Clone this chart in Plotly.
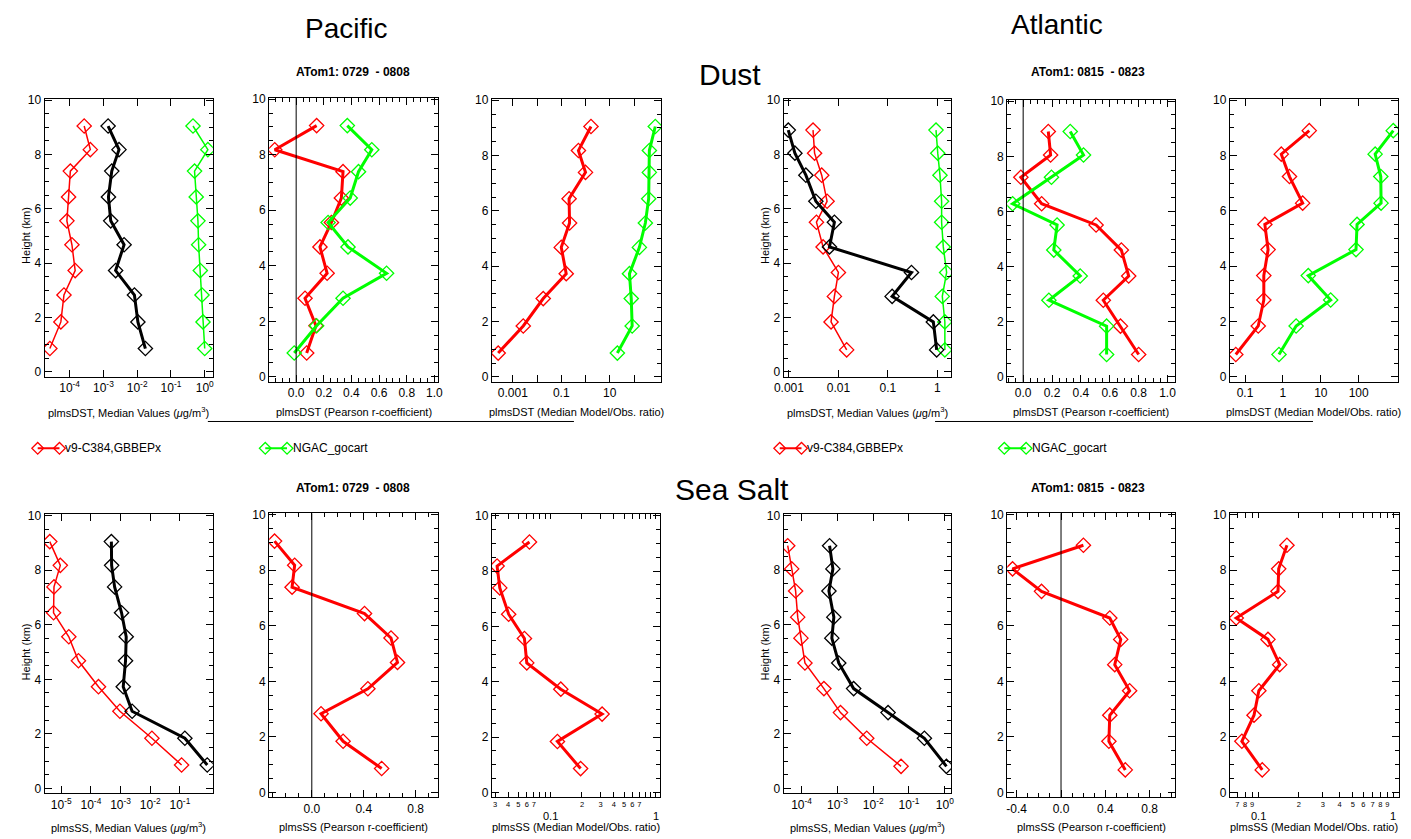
import math
import plotly.graph_objects as go

W, H = 1411, 839
RED, GREEN, BLACK = '#ff0000', '#00ff00', '#000000'
FONT = 'Arial, Liberation Sans, Helvetica, sans-serif'

# ---- vertical bins (km), bottom to top ----
h_pac = [0.86, 1.84, 2.83, 3.73, 4.68, 5.56, 6.44, 7.39, 8.18, 9.05]
h_atl = [0.81, 1.84, 2.78, 3.66, 4.60, 5.51, 6.28, 7.24, 8.05, 8.90]

# ---- Dust, Pacific (ATom1 0729-0808) ----
dst_pac_obs = [1.75e-2, 1.05e-2, 8.3e-3, 2.3e-3, 4.1e-3, 1.65e-3, 1.41e-3, 1.77e-3, 2.9e-3, 1.38e-3]
dst_pac_v9 = [2.6e-5, 5.5e-5, 6.8e-5, 1.46e-4, 1.17e-4, 8.3e-5, 9.3e-5, 1.05e-4, 4.1e-4, 2.7e-4]
dst_pac_ngac = [1.0, 0.89, 0.83, 0.74, 0.66, 0.63, 0.56, 0.50, 1.24, 0.45]
r_dst_pac_v9 = [0.076, 0.143, 0.064, 0.224, 0.172, 0.255, 0.327, 0.339, -0.155, 0.148]
r_dst_pac_ngac = [-0.014, 0.148, 0.339, 0.654, 0.375, 0.231, 0.391, 0.451, 0.547, 0.370]
ratio_dst_pac_v9 = [2.5e-4, 2.7e-3, 0.018, 0.16, 0.10, 0.22, 0.21, 1.0, 0.51, 1.68]
ratio_dst_pac_ngac = [20.6, 84, 77, 65, 167, 294, 403, 430, 430, 755]

# ---- Dust, Atlantic (ATom1 0815-0823) ----
dst_atl_obs = [0.97, 0.83, 0.122, 0.30, 6.6e-3, 8.3e-3, 3.5e-3, 2.2e-3, 1.32e-3, 9.7e-4]
dst_atl_v9 = [1.47e-2, 7.1e-3, 8.3e-3, 1.0e-2, 4.9e-3, 3.6e-3, 5.9e-3, 4.6e-3, 3.3e-3, 3.07e-3]
dst_atl_ngac = [1.42, 1.42, 1.26, 1.54, 1.32, 1.22, 1.22, 1.13, 1.02, 0.94]
r_dst_atl_v9 = [0.80, 0.674, 0.555, 0.731, 0.68, 0.505, 0.128, -0.016, 0.19, 0.174]
r_dst_atl_ngac = [0.578, 0.578, 0.178, 0.395, 0.212, 0.235, -0.073, 0.196, 0.418, 0.326]
ratio_dst_atl_v9 = [0.057, 0.223, 0.313, 0.313, 0.406, 0.333, 3.32, 1.49, 0.905, 4.96]
ratio_dst_atl_ngac = [0.787, 2.23, 18.2, 4.67, 85, 90.5, 390, 383, 272, 818]

# ---- Sea salt, Pacific ----
ss_pac_obs = [0.835, 0.147, 2.45e-3, 1.23e-3, 1.47e-3, 1.55e-3, 1.08e-3, 6.3e-4, 5.0e-4, 4.9e-4]
ss_pac_v9 = [0.114, 1.14e-2, 9.5e-4, 1.8e-4, 3.8e-5, 1.8e-5, 5.5e-6, 5.7e-6, 9.3e-6, 4.1e-6]
r_ss_pac_v9 = [0.538, 0.241, 0.071, 0.432, 0.66, 0.61, 0.406, -0.152, -0.132, -0.287]
ratio_ss_pac_v9 = [0.194, 0.117, 0.31, 0.126, 0.060, 0.057, 0.0404, 0.0333, 0.0314, 0.0636]

# ---- Sea salt, Atlantic ----
ss_atl_obs = [1.11, 0.269, 2.6e-2, 2.84e-3, 1.09e-3, 7.0e-4, 7.96e-4, 5.8e-4, 7.5e-4, 6.05e-4]
ss_atl_v9 = [0.060, 6.6e-3, 1.22e-3, 4.2e-4, 1.24e-4, 9.6e-5, 7.8e-5, 6.8e-5, 5.3e-5, 4.1e-5]
r_ss_atl_v9 = [0.580, 0.432, 0.44, 0.619, 0.485, 0.539, 0.44, -0.176, -0.4375, 0.202]
ratio_ss_atl_v9 = [0.107, 0.0756, 0.093, 0.101, 0.144, 0.118, 0.0687, 0.14, 0.1416, 0.163]

# ---- tick labels ----
pow_vals = [1e-5, 1e-4, 1e-3, 1e-2, 1e-1, 1.0]
pow_text = ['10<sup>-5</sup>', '10<sup>-4</sup>', '10<sup>-3</sup>', '10<sup>-2</sup>',
            '10<sup>-1</sup>', '10<sup>0</sup>']
r_vals_fine = [0.0, 0.2, 0.4, 0.6, 0.8, 1.0]
r_text_fine = ['0.0', '0.2', '0.4', '0.6', '0.8', '1.0']
r_vals_coarse = [-0.4, 0.0, 0.4, 0.8]
r_text_coarse = ['-0.4', '0.0', '0.4', '0.8']
y_vals = [0, 2, 4, 6, 8, 10]
y_text = ['0', '2', '4', '6', '8', '10']
ratio9_vals = [0.03, 0.04, 0.05, 0.06, 0.07, 0.2, 0.3, 0.4, 0.5, 0.6, 0.7]
ratio9_text = ['3', '4', '5', '6', '7', '2', '3', '4', '5', '6', '7']
ratio12_vals = [0.07, 0.08, 0.09, 0.2, 0.3, 0.4, 0.5, 0.6, 0.7, 0.8, 0.9]
ratio12_text = ['7', '8', '9', '2', '3', '4', '5', '6', '7', '8', '9']
ratio_major = [0.1, 1.0]
ratio_major_text = ['0.1', '1']

YR = [-0.18, 10.05]


def px(p):
    return p / W


def py(p):
    return 1 - p / H


# plot boxes in pixels: left, right, pixel row of y=10, pixel row of y=0
boxes = {
    1: (35, 205, 96, 370), 2: (262, 433, 95, 375), 3: (487, 658, 96, 375),
    4: (782, 951, 96, 370), 5: (1008, 1178, 97, 375), 6: (1233, 1403, 96, 375),
    7: (35, 205, 515, 790), 8: (262, 433, 514, 794), 9: (487, 657, 515, 794),
    10: (782, 951, 515, 790), 11: (1008, 1178, 514, 794), 12: (1233, 1404, 514, 794),
}

fig = go.Figure()
layout = {}

axis_common = dict(showline=True, linecolor='black', linewidth=1.2, mirror='allticks',
                   ticks='inside', ticklen=7, tickwidth=1, tickcolor='black',
                   showgrid=False, zeroline=False, tickangle=0,
                   tickfont=dict(family=FONT, size=12, color='black'))


def minor_ticks(**kw):
    d = dict(ticks='inside', ticklen=4, tickcolor='black', showgrid=False)
    d.update(kw)
    return d


def set_axes(i, xcfg):
    xl, xr, y10, y0 = boxes[i]
    per = (y0 - y10) / 10.0
    top = y10 - (YR[1] - 10) * per
    bot = y0 + (0 - YR[0]) * per
    k = '' if i == 1 else str(i)
    xa = dict(axis_common)
    xa.update(domain=[px(xl), px(xr)], anchor='y' + k)
    xa.update(xcfg)
    ya = dict(axis_common)
    ya.update(domain=[py(bot), py(top)], anchor='x' + k, range=YR,
              tickvals=y_vals, ticktext=y_text,
              minor=minor_ticks(dtick=0.5, tick0=0))
    layout['xaxis' + k] = xa
    layout['yaxis' + k] = ya


def add_profile(i, xs, hs, color, width, msize=11):
    k = '' if i == 1 else str(i)
    fig.add_trace(go.Scatter(
        x=xs, y=hs, mode='lines+markers', xaxis='x' + k, yaxis='y' + k,
        line=dict(color=color, width=width),
        marker=dict(symbol='diamond-open', size=msize, color=color, line=dict(width=1.3, color=color)),
        showlegend=False, hoverinfo='skip'))


def log_cfg(lo, hi, vals, text, minor_vals=None, minor_len=4):
    c = dict(type='log', range=[lo, hi], tickvals=vals, ticktext=text)
    if minor_vals:
        c['minor'] = minor_ticks(tickmode='array', tickvals=minor_vals, ticklen=minor_len)
    return c


def lin_cfg(lo, hi, vals, text, mdt):
    return dict(type='linear', range=[lo, hi], tickvals=vals, ticktext=text,
                minor=minor_ticks(dtick=mdt, tick0=0))


# ---- axes ----
set_axes(1, log_cfg(-4.74, 0.24, pow_vals[1:], pow_text[1:]))
set_axes(2, lin_cfg(-0.195, 1.029, r_vals_fine, r_text_fine, 0.05))
set_axes(3, log_cfg(-3.865, 3.114, [1e-3, 1e-1, 10], ['0.001', '0.1', '10'],
                    minor_vals=[1e-2, 1.0, 100.0], minor_len=7))
set_axes(4, log_cfg(-3.106, 0.274, [1e-3, 1e-2, 1e-1, 1], ['0.001', '0.01', '0.1', '1']))
set_axes(5, lin_cfg(-0.11, 1.055, r_vals_fine, r_text_fine, 0.05))
set_axes(6, log_cfg(-1.4, 3.04, [0.1, 1, 10, 100], ['0.1', '1', '10', '100']))
set_axes(7, log_cfg(-5.56, 0.11, pow_vals[:5], pow_text[:5]))
set_axes(8, lin_cfg(-0.328, 0.975, r_vals_coarse[1:], r_text_coarse[1:], 0.1))
set_axes(9, log_cfg(-1.553, 0.04, ratio9_vals, ratio9_text,
                    minor_vals=[0.08, 0.09, 0.1, 0.8, 0.9, 1.0], minor_len=5))
set_axes(10, log_cfg(-4.5, 0.17, pow_vals[1:], pow_text[1:]))
set_axes(11, lin_cfg(-0.485, 1.033, r_vals_coarse, r_text_coarse, 0.1))
set_axes(12, log_cfg(-1.21, 0.042, ratio12_vals, ratio12_text,
                     minor_vals=[0.1, 1.0], minor_len=5))
for k in ('xaxis9', 'xaxis12'):
    layout[k]['tickfont'] = dict(family=FONT, size=7.5, color='black')
    layout[k]['ticklen'] = 5

# ---- profiles ----
add_profile(1, dst_pac_v9, h_pac, RED, 1.5)
add_profile(1, dst_pac_ngac, h_pac, GREEN, 1.5)
add_profile(1, dst_pac_obs, h_pac, BLACK, 3)
add_profile(2, r_dst_pac_v9, h_pac, RED, 3)
add_profile(2, r_dst_pac_ngac, h_pac, GREEN, 3)
add_profile(3, ratio_dst_pac_v9, h_pac, RED, 3)
add_profile(3, ratio_dst_pac_ngac, h_pac, GREEN, 3)

add_profile(4, dst_atl_v9, h_atl, RED, 1.5)
add_profile(4, dst_atl_ngac, h_atl, GREEN, 1.5)
add_profile(4, dst_atl_obs, h_atl, BLACK, 3)
add_profile(5, r_dst_atl_v9, h_atl, RED, 3)
add_profile(5, r_dst_atl_ngac, h_atl, GREEN, 3)
add_profile(6, ratio_dst_atl_v9, h_atl, RED, 3)
add_profile(6, ratio_dst_atl_ngac, h_atl, GREEN, 3)

add_profile(7, ss_pac_v9, h_pac, RED, 1.5)
add_profile(7, ss_pac_obs, h_pac, BLACK, 3)
add_profile(8, r_ss_pac_v9, h_pac, RED, 3)
add_profile(9, ratio_ss_pac_v9, h_pac, RED, 3)

add_profile(10, ss_atl_v9, h_atl, RED, 1.5)
add_profile(10, ss_atl_obs, h_atl, BLACK, 3)
add_profile(11, r_ss_atl_v9, h_atl, RED, 3)
add_profile(12, ratio_ss_atl_v9, h_atl, RED, 3)

# ---- reference lines: r = 0 and ratio = 1 ----
shapes = []
for i in (2, 5, 8, 11):
    shapes.append(dict(type='line', xref='x%d' % i, yref='y%d domain' % i, x0=0, x1=0, y0=0, y1=1,
                       line=dict(color='black', width=1)))
for i in (3, 6, 9, 12):
    shapes.append(dict(type='line', xref='x%d' % i, yref='y%d domain' % i,
                       x0=math.log10(1.0), x1=math.log10(1.0), y0=0, y1=1,
                       line=dict(color=RED, width=1.2)))
# separator rules under the dust row
shapes.append(dict(type='line', xref='paper', yref='paper', x0=px(200), x1=px(570),
                   y0=py(420), y1=py(420), line=dict(color='black', width=1)))
shapes.append(dict(type='line', xref='paper', yref='paper', x0=px(935), x1=px(1317),
                   y0=py(420), y1=py(420), line=dict(color='black', width=1)))

# ---- legend glyphs on a hidden strip axis ----
legend_items = [(28, 50, RED, 'v9-C384,GBBEPx'), (258, 280, GREEN, 'NGAC_gocart'),
                (778, 800, RED, 'v9-C384,GBBEPx'), (1005, 1027, GREEN, 'NGAC_gocart')]
layout['xaxis13'] = dict(domain=[0, 1], range=[0, W], visible=False, anchor='y13')
layout['yaxis13'] = dict(domain=[py(457), py(437)], range=[0, 1], visible=False, anchor='x13')
annotations = []
for x0, x1, col, name in legend_items:
    fig.add_trace(go.Scatter(x=[x0, x1], y=[0.5, 0.5], xaxis='x13', yaxis='y13', mode='lines+markers',
                             line=dict(color=col, width=2),
                             marker=dict(symbol='diamond-open', size=9, color=col, line=dict(width=1.3, color=col)),
                             showlegend=False, hoverinfo='skip'))
    annotations.append(dict(xref='paper', yref='paper', x=px(x1 + 4), y=py(447), xanchor='left',
                            yanchor='middle', showarrow=False, text=name,
                            font=dict(family=FONT, size=12, color='black')))


def ann(x, y, text, size, bold=False, **kw):
    t = '<b>%s</b>' % text if bold else text
    d = dict(xref='paper', yref='paper', x=px(x), y=py(y), text=t, showarrow=False,
             xanchor='center', yanchor='middle', font=dict(family=FONT, size=size, color='black'))
    d.update(kw)
    annotations.append(d)


ann(340, 24, 'Pacific', 28)
ann(1058, 20, 'Atlantic', 28)
ann(728, 70, 'Dust', 30)
ann(730, 489, 'Sea Salt', 30)
ann(347, 68, 'ATom1: 0729  - 0808', 12, bold=True)
ann(347, 487, 'ATom1: 0729  - 0808', 12, bold=True)
ann(1090, 68, 'ATom1: 0815  - 0823', 12, bold=True)
ann(1090, 487, 'ATom1: 0815  - 0823', 12, bold=True)

mu = '(<i>\u03bc</i>g/m<sup>3</sup>)'
xtitles = {1: 'plmsDST, Median Values ' + mu, 2: 'plmsDST (Pearson r-coefficient)',
           3: 'plmsDST (Median Model/Obs. ratio)', 4: 'plmsDST, Median Values ' + mu,
           5: 'plmsDST (Pearson r-coefficient)', 6: 'plmsDST (Median Model/Obs. ratio)',
           7: 'plmsSS, Median Values ' + mu, 8: 'plmsSS (Pearson r-coefficient)',
           9: 'plmsSS (Median Model/Obs. ratio)', 10: 'plmsSS, Median Values ' + mu,
           11: 'plmsSS (Pearson r-coefficient)', 12: 'plmsSS (Median Model/Obs. ratio)'}
for i, t in xtitles.items():
    ypix = 410 if i <= 6 else 829
    annotations.append(dict(xref='x%s domain' % ('' if i == 1 else i), yref='paper', x=0.5, y=py(ypix),
                            text=t, showarrow=False, xanchor='center', yanchor='middle',
                            font=dict(family=FONT, size=11, color='black')))
for i in (1, 4, 7, 10):
    ymid = 232 if i <= 4 else 652
    xl = boxes[i][0]
    annotations.append(dict(xref='paper', yref='paper', x=px(xl - 19), y=py(ymid), text='Height (km)',
                            textangle=-90, showarrow=False, xanchor='center', yanchor='middle',
                            font=dict(family=FONT, size=11, color='black')))

# decade labels of the narrow ratio axes, set below the digit labels
for i in (9, 12):
    for v, t in zip(ratio_major, ratio_major_text):
        annotations.append(dict(xref='x%d' % i, yref='paper', x=math.log10(v), y=py(816), text=t,
                                showarrow=False, xanchor='center', yanchor='top',
                                font=dict(family=FONT, size=11, color='black')))
# shift the decade labels so their tops sit just under the digit row
for a in annotations[-4:]:
    a['y'] = py(810)

layout.update(width=W, height=H, margin=dict(l=0, r=0, t=0, b=0),
              paper_bgcolor='white', plot_bgcolor='white', showlegend=False,
              shapes=shapes, annotations=annotations)
fig.update_layout(**layout)
fig.write_html('out.html')
